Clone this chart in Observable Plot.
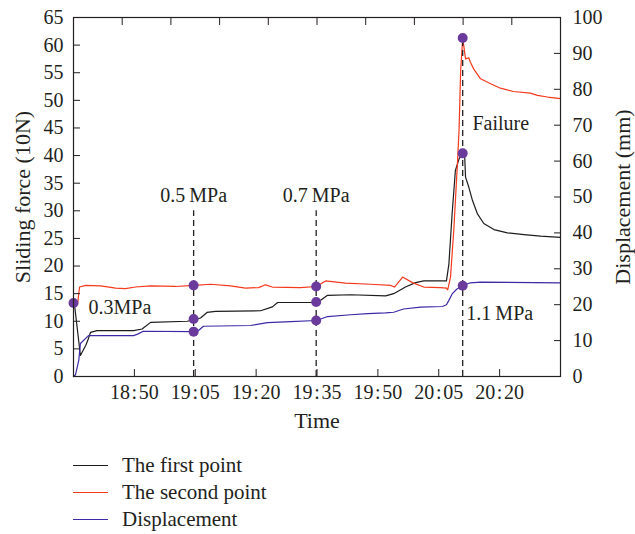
<!DOCTYPE html>
<html><head><meta charset="utf-8">
<script src="https://cdn.jsdelivr.net/npm/d3@7"></script>
<script src="https://cdn.jsdelivr.net/npm/@observablehq/plot@0.6"></script>
<style>
body{margin:0;background:#fff;font-family:"Liberation Serif","Times New Roman",serif;}
#wrap{position:relative;width:635px;height:534px;overflow:hidden;}
#wrap svg{position:absolute;left:0;top:0;}
.leg{position:absolute;left:73px;height:24px;display:flex;align-items:center;font-size:21px;color:#231f20;white-space:nowrap;}
.leg span.sw{display:inline-block;width:35px;height:0;border-top:1.5px solid;margin-right:14px;}
</style></head><body><div id="wrap"></div>
<script>
// Clock of the left edge of the time axis; times below are minutes after it
const startClock = "18:35";
const xTickLabels = ["18:50","19:05","19:20","19:35","19:50","20:05","20:20"];
const leftTicks = [0,5,10,15,20,25,30,35,40,45,50,55,60,65];
const rightTicks = [0,10,20,30,40,50,60,70,80,90,100];
const topTicks = [12,24,36,48,60,72,84,96,108];

// The first point: sliding force (10N)
const firstTime  = [0,0.2,1.7,3.0,3.5,4.2,5.8,14.8,16.9,19.0,28.0,29.6,31.3,32.9,35.0,46.1,49.0,50.3,55.9,59.9,60.9,62.6,68.3,76.9,78.9,81.8,84.3,86.3,91.9,92.5,93.3,94.1,95.0,95.9,96.4,96.6,97.4,98.3,99.5,101.1,103.6,106.9,111.0,115.1,120];
const firstForce = [13.3,13.3,3.8,5.6,6.5,8.0,8.3,8.3,8.6,9.8,10.0,10.2,10.6,11.6,11.8,11.9,12.6,13.4,13.4,13.4,13.8,14.7,14.8,14.6,15.0,16.2,17.0,17.3,17.3,20.4,29.5,37.3,39.4,40.4,39.7,36.1,34.3,31.9,29.5,27.7,26.6,26.0,25.7,25.4,25.2];

// The second point: sliding force (10N)
const secondTime  = [0,1.0,1.5,3.0,6.7,10.4,12.8,15.3,19.0,25.1,29.6,33.8,38.7,42.4,45.6,47.3,49.0,55.9,59.9,62.1,67.0,73.2,78.1,79.1,81.1,83.5,86.3,90.4,91.9,92.2,92.9,93.7,94.6,95.0,95.4,95.9,96.6,97.4,97.8,98.6,100.3,102.8,105.2,108.4,112.6,114.3,116.8,120];
const secondForce = [13.3,13.2,16.2,16.5,16.4,16.0,15.9,16.2,16.4,16.3,16.5,16.7,16.4,16.0,16.1,16.6,16.2,16.1,16.3,17.3,16.9,16.7,16.5,16.2,18.0,17.0,16.2,16.1,16.0,15.7,18.0,26.4,38.5,44.6,55.4,61.3,57.5,57.7,56.9,55.7,53.9,53.0,52.2,51.6,51.3,50.9,50.6,50.3];

// Displacement (mm)
const dispTime = [0,0.5,1.3,1.7,3.7,14.8,15.8,17.2,29.6,30.8,32.0,43.6,47.8,53.5,59.9,62.6,68.3,72.5,76.9,78.9,81.3,85.5,90.9,91.9,92.5,93.3,94.4,95.9,97.8,100.3,120];
const dispMm   = [0,0.5,4.5,9.2,11.4,11.4,11.8,12.6,12.5,12.8,14.0,14.2,15.0,15.3,15.6,16.7,17.2,17.5,17.7,17.9,18.8,19.3,19.5,20.0,21.2,23.0,24.3,25.3,26.1,26.3,26.1];

// Loading events
const eventTime   = [29.6, 59.8, 95.9];
const eventTopForce = [30, 30, 61.3];
const markerFirst  = [10.4, 13.5, 40.4];
const markerSecond = [16.5, 16.3, 61.3];
const markerDisp   = [12.5, 15.6, 25.3];
const startForce = 13.3;

// Annotations
const noteText = ["0.3MPa", "0.5\u2009MPa", "0.7\u2009MPa", "Failure", "1.1\u2009MPa"];
const noteTime = [3.7, 29.6, 59.8, 98.3, 96.8];
const noteForce = [12.4, 32.8, 32.8, 45.8, 11.4];
const noteAnchor = ["start", "middle", "middle", "start", "start"];

const seriesNames = ["The first point", "The second point", "Displacement"];
const seriesColors = ["#1c1c1c", "#f5391c", "#3b2aa6"];

const ink = "#231f20";
const dotColor = "#6a3b9c";
const FORCE_PER_MM = 65 / 100;

const [h0, m0] = startClock.split(":").map(Number);
const toMin = s => { const [h, m] = s.split(":").map(Number); return h*60 + m - (h0*60 + m0); };
const toClock = t => { const a = h0*60 + m0 + Math.round(t); return `${Math.floor(a/60)}\u200a:\u200a${String(a%60).padStart(2,"0")}`; };
const xTicks = xTickLabels.map(toMin);

const first = firstTime.map((t,i) => ({t, v: firstForce[i]}));
const second = secondTime.map((t,i) => ({t, v: secondForce[i]}));
const disp = dispTime.map((t,i) => ({t, v: dispMm[i] * FORCE_PER_MM}));
const events = eventTime.map((t,i) => ({t, top: eventTopForce[i]}));
const markers = [{t: 0, v: startForce}]
  .concat(eventTime.map((t,i) => ({t, v: markerSecond[i]})))
  .concat(eventTime.map((t,i) => ({t, v: markerFirst[i]})))
  .concat(eventTime.map((t,i) => ({t, v: markerDisp[i] * FORCE_PER_MM})));
const notes = noteText.map((s,i) => ({s, t: noteTime[i], v: noteForce[i], a: noteAnchor[i]}));

const chart = Plot.plot({
  width: 635, height: 445,
  marginLeft: 73, marginRight: 75, marginTop: 17, marginBottom: 69,
  style: {fontFamily: "'Liberation Serif', 'Times New Roman', serif", fontSize: "20px", color: ink, background: "transparent", overflow: "visible"},
  x: {domain: [0, 120]},
  y: {domain: [0, 65]},
  marks: [
    Plot.line(first, {x: "t", y: "v", stroke: seriesColors[0], strokeWidth: 1.2}),
    Plot.line(second, {x: "t", y: "v", stroke: seriesColors[1], strokeWidth: 1.2}),
    Plot.line(disp, {x: "t", y: "v", stroke: seriesColors[2], strokeWidth: 1.2}),
    Plot.ruleX(events, {x: "t", y1: 0, y2: "top", stroke: ink, strokeWidth: 1.3, strokeDasharray: "6,4"}),
    Plot.dot(markers, {x: "t", y: "v", r: 5, fill: dotColor, stroke: null}),
    Plot.text(notes.filter(d => d.a === "start"), {x: "t", y: "v", text: "s", textAnchor: "start", fill: ink, fontSize: 20}),
    Plot.text(notes.filter(d => d.a === "middle"), {x: "t", y: "v", text: "s", textAnchor: "middle", fill: ink, fontSize: 20}),
    Plot.frame({stroke: ink, strokeWidth: 1.2}),
    // inward tick marks
    Plot.axisY({ticks: leftTicks, tickSize: 7, dx: 7, tickFormat: () => "", label: null, stroke: ink}),
    Plot.axisY({anchor: "right", ticks: rightTicks.map(d => d*FORCE_PER_MM), tickSize: 7, dx: -7, tickFormat: () => "", label: null, stroke: ink}),
    Plot.axisX({ticks: xTicks, tickSize: 7, dy: -7, tickFormat: () => "", label: null, stroke: ink}),
    Plot.axisX({anchor: "top", ticks: topTicks, tickSize: 7, dy: 7, tickFormat: () => "", label: null, stroke: ink}),
    // tick labels
    Plot.axisY({ticks: leftTicks, tickSize: 0, tickPadding: 10, label: null, fill: ink, fontSize: 20}),
    Plot.axisY({anchor: "right", ticks: rightTicks.map(d => d*FORCE_PER_MM), tickSize: 0, tickPadding: 12, tickFormat: d => Math.round(d / FORCE_PER_MM), label: null, fill: ink, fontSize: 20}),
    Plot.axisX({ticks: xTicks, tickSize: 0, tickPadding: 8, tickFormat: toClock, label: null, fill: ink, fontSize: 20}),
    // axis titles
    Plot.text(["Time"], {frameAnchor: "bottom", dy: 44, lineAnchor: "middle", textAnchor: "middle", text: d => d, fill: ink, fontSize: 22}),
    Plot.text(["Sliding force (10N)"], {frameAnchor: "left", dx: -51, rotate: -90, textAnchor: "middle", lineAnchor: "middle", text: d => d, fill: ink, fontSize: 22}),
    Plot.text(["Displacement (mm)"], {frameAnchor: "right", dx: 62, rotate: -90, textAnchor: "middle", lineAnchor: "middle", text: d => d, fill: ink, fontSize: 22})
  ]
});

const wrap = document.getElementById("wrap");
wrap.appendChild(chart);
const legendTops = [453, 480, 507];
seriesNames.forEach((name, i) => {
  const row = document.createElement("div");
  row.className = "leg";
  row.style.top = legendTops[i] + "px";
  const sw = document.createElement("span");
  sw.className = "sw";
  sw.style.borderTopColor = seriesColors[i];
  row.appendChild(sw);
  row.appendChild(document.createTextNode(name));
  wrap.appendChild(row);
});
</script>
</body></html>
